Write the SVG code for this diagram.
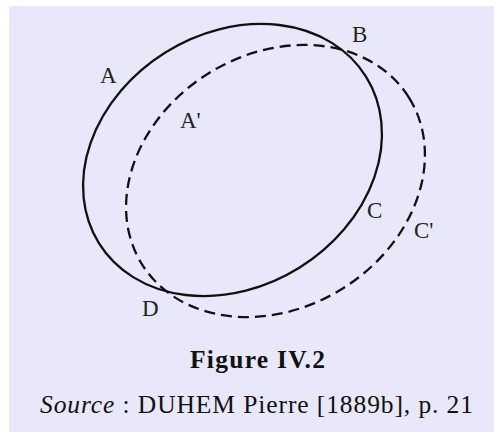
<svg xmlns="http://www.w3.org/2000/svg" width="494" height="432" viewBox="0 0 494 432">
<style>
.curve{fill:none;stroke:#111;stroke-width:2.3}
.dash{stroke-dasharray:11 6}
.lbl{font-family:"Liberation Serif","DejaVu Serif",serif;font-size:23px;fill:#222}
.cap{font-family:"Liberation Serif","DejaVu Serif",serif;fill:#111;text-anchor:middle;font-size:25.5px}
</style>
<rect x="0" y="0" width="494" height="432" fill="#ffffff"/>
<rect x="9" y="6" width="485" height="426" fill="#E8E8FA"/>
<g id="connectors">
<ellipse id="curve-solid" class="curve" cx="232.5" cy="160" rx="157.4" ry="126.8" transform="rotate(-32 232.5 160)"/>
<ellipse id="curve-dashed" class="curve dash" cx="275.5" cy="181" rx="157.4" ry="126.8" transform="rotate(-32 275.5 181)"/>
</g>
<g id="node-A"><text class="lbl" x="100" y="83">A</text></g>
<g id="node-B"><text class="lbl" x="352" y="42">B</text></g>
<g id="node-A2"><text class="lbl" x="180" y="128">A'</text></g>
<g id="node-C"><text class="lbl" x="367" y="218">C</text></g>
<g id="node-C2"><text class="lbl" x="414" y="238">C'</text></g>
<g id="node-D"><text class="lbl" x="142" y="316">D</text></g>
<g id="caption">
<text class="cap" x="257.5" y="368" font-weight="bold" textLength="135" lengthAdjust="spacing">Figure IV.2</text>
<text class="cap" x="256.5" y="413" textLength="433" lengthAdjust="spacing"><tspan font-style="italic">Source</tspan> : DUHEM Pierre [1889b], p. 21</text>
</g>
</svg>
